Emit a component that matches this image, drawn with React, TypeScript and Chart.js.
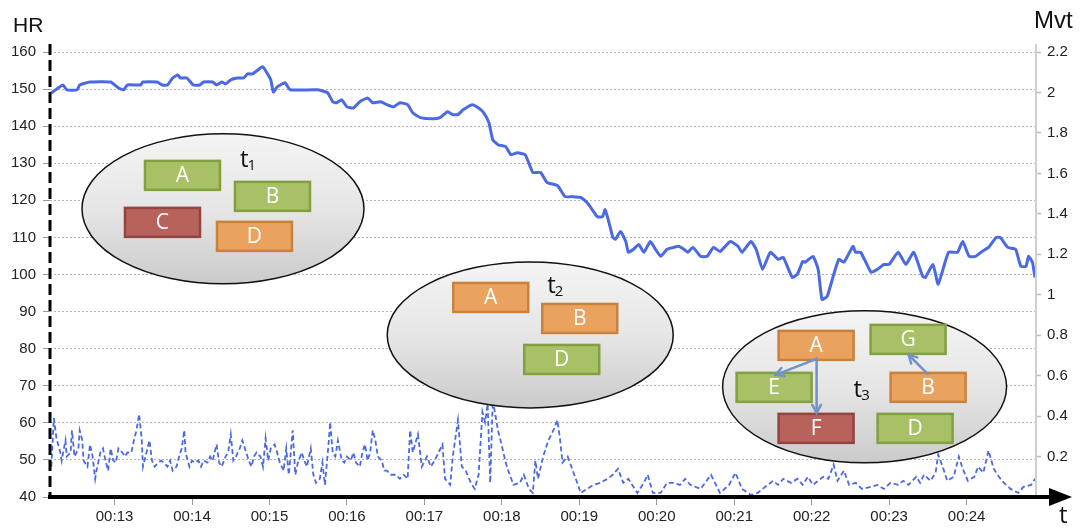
import React, { useEffect, useRef } from 'react';
import { Chart, registerables } from 'chart.js';

Chart.register(...registerables);

// ---- data (time in seconds) ----
const hrTimes = [
  731, 732, 740, 743, 751, 753, 761, 777, 783, 787, 790, 800, 802, 813, 817, 821, 825, 829, 831, 836,
  841, 846, 849, 856, 859, 863, 866, 870, 875, 880, 883, 887, 893, 895, 898, 901, 903, 906, 912, 916,
  937, 945, 949, 952, 956, 960, 965, 970, 976, 980, 986, 991, 996, 1001, 1007, 1011, 1017, 1027, 1032, 1038,
  1042, 1046, 1050, 1057, 1062, 1066, 1070, 1073, 1077, 1083, 1087, 1092, 1098, 1102, 1104, 1110, 1115, 1123, 1129, 1135,
  1141, 1146, 1150, 1154, 1158, 1160, 1163, 1166, 1168, 1172, 1176, 1178, 1182, 1186, 1190, 1195, 1199, 1203, 1208, 1213,
  1217, 1221, 1224, 1228, 1234, 1239, 1244, 1249, 1257, 1263, 1266, 1273, 1277, 1282, 1288, 1294, 1298, 1305, 1309, 1313,
  1315, 1321, 1325, 1328, 1332, 1336, 1341, 1345, 1352, 1354, 1358, 1366, 1371, 1376, 1380, 1387, 1393, 1399, 1406, 1408,
  1414, 1418, 1426, 1433, 1437, 1442, 1447, 1452, 1457, 1463, 1466, 1472, 1478, 1482, 1486, 1488, 1491, 1493,
];
const hrValues = [
  149.0, 149.2, 151.1, 149.8, 149.8, 151.1, 151.9, 151.9, 150.3, 149.8, 151.1, 151.1, 151.9, 151.9, 151.1, 151.1, 153.0, 153.8, 153.0, 153.0,
  151.1, 151.1, 151.9, 151.9, 151.1, 151.9, 151.4, 152.5, 153.0, 153.0, 154.1, 154.1, 155.7, 156.0, 154.4, 152.5, 149.2, 150.6, 151.7, 149.8,
  149.8, 149.0, 146.6, 146.3, 147.1, 145.2, 144.9, 146.6, 147.6, 146.3, 146.6, 145.8, 145.2, 146.3, 145.8, 143.6, 142.3, 142.0, 142.3, 143.9,
  143.1, 143.1, 144.4, 145.8, 144.9, 143.6, 140.9, 136.3, 135.0, 134.5, 132.3, 132.8, 132.3, 129.1, 127.5, 127.5, 124.8, 124.0, 121.0, 121.0,
  120.8, 119.4, 117.5, 115.6, 115.6, 117.5, 114.0, 110.0, 109.5, 111.6, 108.9, 106.0, 106.8, 108.1, 106.0, 108.9, 106.8, 104.9, 106.8, 107.3,
  107.6, 106.8, 106.0, 107.3, 104.9, 104.9, 107.3, 106.2, 108.9, 107.6, 106.0, 108.9, 106.8, 101.4, 106.0, 104.1, 104.6, 99.2, 100.1, 103.5,
  103.3, 104.9, 101.4, 93.3, 94.1, 98.7, 104.1, 103.3, 107.6, 106.0, 106.0, 100.6, 101.4, 102.7, 102.7, 106.0, 102.7, 106.0, 99.5, 99.2,
  102.7, 97.4, 106.0, 106.0, 108.9, 104.9, 104.9, 106.2, 107.3, 110.0, 110.0, 107.3, 106.8, 102.2, 102.2, 104.9, 103.3, 99.2,
];

const mvtTimes = [
  731, 733, 735, 738, 739, 742, 743, 746, 747, 749,
  752, 753, 755, 756, 759, 761, 763, 765, 766, 769,
  771, 773, 775, 777, 779, 781, 783, 786, 788, 790,
  793, 795, 797, 799, 801, 802, 804, 807, 809, 811,
  814, 816, 818, 821, 823, 825, 828, 830, 832, 834,
  835, 838, 840, 842, 845, 847, 849, 852, 854, 856,
  859, 861, 863, 866, 868, 870, 872, 874, 877, 879,
  881, 884, 886, 888, 890, 893, 895, 897, 899, 901,
  904, 906, 908, 911, 913, 915, 918, 920, 922, 925,
  927, 929, 932, 934, 936, 939, 941, 943, 946, 947,
  949, 951, 953, 956, 958, 960, 963, 965, 967, 970,
  972, 974, 976, 978, 980, 982, 984, 987, 989, 991,
  994, 996, 998, 1001, 1004, 1007, 1009, 1011, 1015, 1018,
  1022, 1025, 1028, 1034, 1036, 1040, 1042, 1046, 1049, 1052,
  1056, 1059, 1062, 1065, 1067, 1069, 1071, 1073, 1077, 1079,
  1083, 1085, 1089, 1094, 1097, 1101, 1104, 1106, 1108, 1112,
  1116, 1120, 1123, 1125, 1127, 1131, 1135, 1139, 1141, 1146,
  1151, 1156, 1162, 1166, 1170, 1174, 1178, 1185, 1190, 1193,
  1197, 1203, 1208, 1213, 1218, 1222, 1226, 1234, 1242, 1249,
  1256, 1261, 1266, 1273, 1278, 1286, 1290, 1294, 1298, 1304,
  1309, 1313, 1317, 1321, 1325, 1329, 1333, 1337, 1340, 1345,
  1349, 1354, 1359, 1366, 1371, 1376, 1381, 1387, 1391, 1395,
  1401, 1404, 1407, 1412, 1416, 1418, 1422, 1425, 1430, 1434,
  1437, 1441, 1446, 1449, 1453, 1457, 1461, 1465, 1469, 1474,
  1480, 1484, 1490, 1493,
];
const mvtValues = [
  0.15, 0.39, 0.29, 0.22, 0.18, 0.28, 0.20, 0.22, 0.33, 0.20,
  0.24, 0.33, 0.28, 0.18, 0.15, 0.26, 0.20, 0.09, 0.13, 0.22,
  0.24, 0.18, 0.13, 0.24, 0.18, 0.17, 0.24, 0.22, 0.20, 0.22,
  0.22, 0.28, 0.33, 0.41, 0.29, 0.15, 0.20, 0.28, 0.18, 0.15,
  0.17, 0.18, 0.17, 0.15, 0.18, 0.13, 0.15, 0.20, 0.24, 0.33,
  0.22, 0.15, 0.18, 0.17, 0.18, 0.15, 0.18, 0.17, 0.20, 0.18,
  0.26, 0.17, 0.15, 0.20, 0.22, 0.31, 0.18, 0.20, 0.24, 0.28,
  0.24, 0.18, 0.15, 0.20, 0.22, 0.20, 0.15, 0.29, 0.18, 0.24,
  0.26, 0.22, 0.17, 0.13, 0.24, 0.11, 0.33, 0.11, 0.17, 0.22,
  0.18, 0.15, 0.24, 0.11, 0.07, 0.09, 0.17, 0.06, 0.28, 0.37,
  0.22, 0.20, 0.28, 0.18, 0.17, 0.20, 0.18, 0.22, 0.17, 0.15,
  0.22, 0.26, 0.18, 0.22, 0.33, 0.28, 0.20, 0.18, 0.13, 0.13,
  0.11, 0.11, 0.11, 0.09, 0.11, 0.09, 0.33, 0.22, 0.31, 0.15,
  0.20, 0.15, 0.18, 0.26, 0.09, 0.06, 0.20, 0.38, 0.15, 0.13,
  0.07, 0.04, 0.11, 0.42, 0.37, 0.46, 0.07, 0.48, 0.33, 0.28,
  0.17, 0.13, 0.06, 0.07, 0.11, 0.04, 0.02, 0.18, 0.09, 0.20,
  0.28, 0.33, 0.38, 0.29, 0.17, 0.20, 0.13, 0.06, 0.02, 0.04,
  0.06, 0.07, 0.09, 0.11, 0.14, 0.07, 0.09, 0.02, 0.07, 0.11,
  0.02, 0.02, 0.07, 0.07, 0.06, 0.09, 0.06, 0.04, 0.11, 0.02,
  0.06, 0.12, 0.04, 0.01, 0.02, 0.06, 0.08, 0.06, 0.09, 0.07,
  0.09, 0.06, 0.10, 0.06, 0.08, 0.10, 0.09, 0.16, 0.08, 0.13,
  0.06, 0.07, 0.04, 0.05, 0.06, 0.04, 0.07, 0.06, 0.08, 0.06,
  0.10, 0.07, 0.11, 0.08, 0.12, 0.21, 0.14, 0.08, 0.10, 0.20,
  0.14, 0.08, 0.10, 0.15, 0.12, 0.23, 0.14, 0.10, 0.07, 0.04,
  0.02, 0.05, 0.06, 0.09,
];

const xTickValues = [780, 840, 900, 960, 1020, 1080, 1140, 1200, 1260, 1320, 1380, 1440];
const xTickLabels = ['00:13', '00:14', '00:15', '00:16', '00:17', '00:18', '00:19', '00:20', '00:21', '00:22', '00:23', '00:24'];
const hrTicks = [40, 50, 60, 70, 80, 90, 100, 110, 120, 130, 140, 150, 160];
const mvtTicks = [0, 0.2, 0.4, 0.6, 0.8, 1, 1.2, 1.4, 1.6, 1.8, 2, 2.2];

// ---- diagram annotations (anchored at data coords; offsets in px) ----
type Box = [string, string, number, number];
const diagrams: { tag: string; t: number; hr: number; rx: number; ry: number; boxes: Box[]; label: [number, number]; arrows: number[][] }[] = [
  {
    tag: '1', t: 864, hr: 117.7, rx: 141, ry: 75,
    boxes: [['A', 'green', -78, -48], ['B', 'green', 12, -27], ['C', 'red', -98, -1], ['D', 'orange', -6, 13]],
    label: [17, -42], arrows: [],
  },
  {
    tag: '2', t: 1102, hr: 83.7, rx: 143, ry: 73,
    boxes: [['A', 'orange', -77, -52], ['B', 'orange', 12, -31], ['D', 'green', -6, 10]],
    label: [17, -42], arrows: [],
  },
  {
    tag: '3', t: 1361, hr: 69.7, rx: 142, ry: 76,
    boxes: [['A', 'orange', -86, -56], ['G', 'green', 6, -62], ['E', 'green', -128, -14], ['B', 'orange', 26, -14], ['F', 'red', -86, 27], ['D', 'green', 13, 27]],
    label: [-11, 10],
    arrows: [[-48, -28, -89, -12], [-48, -28, -48, 26], [63, -13, 44, -32]],
  },
];

const boxColors: Record<string, { fill: string; stroke: string }> = {
  green: { fill: '#a8c066', stroke: '#82a042' },
  red: { fill: '#b8625c', stroke: '#924440' },
  orange: { fill: '#eaa35e', stroke: '#c9823c' },
};

const BOX_W = 75;
const BOX_H = 29;
const BLUE = '#4a69e2';
const TICK_FONT = { family: '"Liberation Sans", Arial, sans-serif', size: 15 };

const axesPlugin = {
  id: 'axesDeco',
  afterDatasetsDraw(chart: any) {
    const { ctx, chartArea } = chart;
    const { left, right, bottom } = chartArea;
    ctx.save();
    // right grey axis
    ctx.strokeStyle = '#cfcfcf';
    ctx.lineWidth = 2;
    ctx.beginPath();
    ctx.moveTo(right + 1, 44);
    ctx.lineTo(right + 1, bottom);
    ctx.stroke();
    // left dashed axis
    ctx.strokeStyle = '#000';
    ctx.lineWidth = 3;
    ctx.setLineDash([11, 5]);
    ctx.beginPath();
    ctx.moveTo(left, 44);
    ctx.lineTo(left, bottom);
    ctx.stroke();
    ctx.setLineDash([]);
    // bottom axis with arrow
    ctx.lineWidth = 4;
    ctx.beginPath();
    ctx.moveTo(left - 2, bottom);
    ctx.lineTo(1052, bottom);
    ctx.stroke();
    ctx.fillStyle = '#000';
    ctx.beginPath();
    ctx.moveTo(1049, bottom - 9);
    ctx.lineTo(1072, bottom);
    ctx.lineTo(1049, bottom + 9);
    ctx.closePath();
    ctx.fill();
    // titles
    ctx.fillStyle = '#111';
    ctx.textBaseline = 'alphabetic';
    ctx.textAlign = 'left';
    ctx.font = '21px "Liberation Sans", Arial, sans-serif';
    ctx.fillText('HR', 13, 32);
    ctx.font = '24px "Liberation Sans", Arial, sans-serif';
    ctx.fillText('Mvt', 1034, 28);
    ctx.font = '24px "Open Sans", sans-serif';
    ctx.fillText('t', 1059, 523);
    ctx.restore();
  },
};

function drawArrow(ctx: CanvasRenderingContext2D, x1: number, y1: number, x2: number, y2: number) {
  ctx.beginPath();
  ctx.moveTo(x1, y1);
  ctx.lineTo(x2, y2);
  ctx.stroke();
  const a = Math.atan2(y2 - y1, x2 - x1);
  const L = 9;
  ctx.beginPath();
  ctx.moveTo(x2 - L * Math.cos(a - 0.5), y2 - L * Math.sin(a - 0.5));
  ctx.lineTo(x2, y2);
  ctx.lineTo(x2 - L * Math.cos(a + 0.5), y2 - L * Math.sin(a + 0.5));
  ctx.stroke();
}

const diagramPlugin = {
  id: 'diagrams',
  afterDatasetsDraw(chart: any) {
    const { ctx, scales } = chart;
    const xs = scales.x;
    const ys = scales.y;
    for (const g of diagrams) {
      const cx = xs.getPixelForValue(g.t);
      const cy = ys.getPixelForValue(g.hr);
      ctx.save();
      ctx.beginPath();
      ctx.ellipse(cx, cy, g.rx, g.ry, 0, 0, Math.PI * 2);
      const grad = ctx.createLinearGradient(0, cy - g.ry, 0, cy + g.ry);
      grad.addColorStop(0, '#f4f4f4');
      grad.addColorStop(0.5, '#e6e6e6');
      grad.addColorStop(1, '#cbcbcb');
      ctx.fillStyle = grad;
      ctx.fill();
      ctx.lineWidth = 1.5;
      ctx.strokeStyle = '#111';
      ctx.stroke();

      for (const [txt, col, dx, dy] of g.boxes) {
        const c = boxColors[col];
        const bx = cx + dx;
        const by = cy + dy;
        ctx.fillStyle = c.fill;
        ctx.fillRect(bx, by, BOX_W, BOX_H);
        ctx.strokeStyle = c.stroke;
        ctx.lineWidth = 2.5;
        ctx.strokeRect(bx, by, BOX_W, BOX_H);
        ctx.fillStyle = '#ffffff';
        ctx.font = '21px "Open Sans", sans-serif';
        ctx.textAlign = 'center';
        ctx.textBaseline = 'middle';
        ctx.fillText(txt, bx + BOX_W / 2, by + BOX_H / 2 + 1);
      }

      ctx.strokeStyle = '#6f93c9';
      ctx.lineWidth = 2.5;
      ctx.lineCap = 'round';
      for (const [x1, y1, x2, y2] of g.arrows) {
        drawArrow(ctx, cx + x1, cy + y1, cx + x2, cy + y2);
      }

      ctx.fillStyle = '#111';
      ctx.textAlign = 'left';
      ctx.textBaseline = 'alphabetic';
      ctx.font = '24px "Open Sans", sans-serif';
      const lx = cx + g.label[0];
      const ly = cy + g.label[1];
      ctx.fillText('t', lx, ly);
      const w = ctx.measureText('t').width;
      ctx.font = '15px "Open Sans", sans-serif';
      ctx.fillText(g.tag, lx + w - 1, ly + 3);
      ctx.restore();
    }
  },
};

export default function App() {
  const ref = useRef<HTMLCanvasElement>(null);
  useEffect(() => {
    if (!ref.current) return;
    const chart = new Chart(ref.current, {
      type: 'line',
      data: {
        datasets: [
          {
            label: 'HR',
            data: hrTimes.map((t, i) => ({ x: t, y: hrValues[i] })),
            yAxisID: 'y',
            borderColor: BLUE,
            borderWidth: 3,
            pointRadius: 0,
            tension: 0.15,
          },
          {
            label: 'Mvt',
            data: mvtTimes.map((t, i) => ({ x: t, y: mvtValues[i] })),
            yAxisID: 'y1',
            borderColor: BLUE,
            borderWidth: 1.8,
            borderDash: [5, 3],
            pointRadius: 0,
            tension: 0,
          },
        ],
      },
      options: {
        responsive: false,
        animation: false,
        layout: { padding: { top: 52, left: 0, right: 0, bottom: 0 } },
        plugins: { legend: { display: false }, tooltip: { enabled: false } },
        scales: {
          x: {
            type: 'linear',
            min: 730,
            max: 1493,
            afterBuildTicks: (s: any) => { s.ticks = xTickValues.map((v) => ({ value: v })); },
            afterFit: (s: any) => { s.height = 31; },
            ticks: {
              font: TICK_FONT,
              color: '#222',
              padding: 3,
              maxRotation: 0,
              autoSkip: false,
              callback: (v: any) => xTickLabels[xTickValues.indexOf(Number(v))] ?? '',
            },
            grid: { drawOnChartArea: false, tickLength: 8, tickColor: '#999', tickWidth: 1 },
            border: { display: false },
          },
          y: {
            type: 'linear',
            position: 'left',
            min: 40,
            max: 160,
            afterBuildTicks: (s: any) => { s.ticks = hrTicks.map((v) => ({ value: v })); },
            afterFit: (s: any) => { s.width = 50; },
            ticks: { font: TICK_FONT, color: '#222', padding: 7 },
            grid: { color: '#b4b4b4', lineWidth: 1, tickLength: 7, tickColor: '#999', tickBorderDash: [] },
            border: { display: false, dash: [2, 2] },
          },
          y1: {
            type: 'linear',
            position: 'right',
            min: 0,
            max: 2.2,
            afterBuildTicks: (s: any) => { s.ticks = mvtTicks.map((v) => ({ value: v })); },
            afterFit: (s: any) => { s.width = 48; },
            ticks: {
              font: TICK_FONT,
              color: '#222',
              padding: 6,
              callback: (v: any) => (Number(v) === 0 ? '' : String(v)),
            },
            grid: { drawOnChartArea: false, tickLength: 6, tickColor: '#bbb', tickWidth: 1.5 },
            border: { display: false },
          },
        },
      },
      plugins: [axesPlugin, diagramPlugin],
    });
    return () => chart.destroy();
  }, []);
  return (
    <div style={{ position: 'absolute', left: 0, top: 0, width: 1083, height: 528, background: '#fff' }}>
      <canvas ref={ref} width={1083} height={528} style={{ display: 'block' }} />
    </div>
  );
}
